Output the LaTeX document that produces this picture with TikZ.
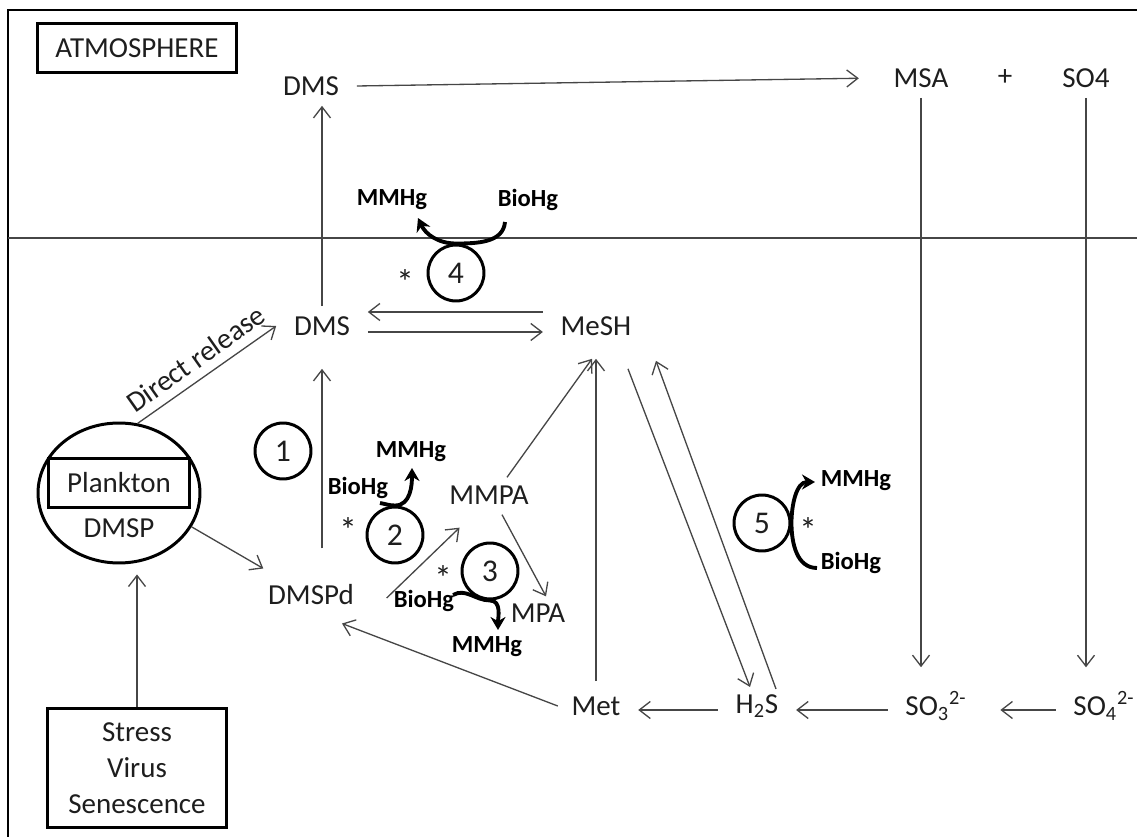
\documentclass[tikz,border=0pt]{standalone}
\usepackage{fontspec}
\setmainfont{Carlito}
\usetikzlibrary{%
	calc,%
	arrows.meta,%
	shapes.geometric,%
	positioning,%
}
\definecolor{ctext}{RGB}{30,30,30}
\definecolor{cline}{RGB}{70,70,70}
\tikzset{
	>={Straight Barb[length=2.2mm,width=3.4mm]},%
	nodes={align=center},%
	species/.style={%
			text=ctext,%
			font={\fontsize{16.5}{19}\selectfont},%
			inner xsep=0.35cm,%
			inner ysep=0.2cm},%
	hglabel/.style={%
			font={\fontsize{14}{16}\selectfont\bfseries},%
			inner sep=0pt},%
	enzyme/.style={%
			draw,%
			circle,%
			line width=1.7pt,%
			minimum size=1.12cm,%
			inner sep=0pt,%
			text=ctext,%
			font={\fontsize{18}{20}\selectfont}},%
	asterisk/.style={%
			text=ctext,%
			inner sep=0pt,%
			font={\fontsize{20}{22}\selectfont}},%
	framebox/.style={%
			draw,%
			rectangle,%
			line width=1.7pt,%
			text=ctext,%
			font={\fontsize{16.5}{20.5}\selectfont}},%
	flux/.style={%
			->,%
			draw=cline,%
			line width=0.75pt},%
	hgarc/.style={%
			-{Stealth[length=2.6mm,width=3mm]},%
			line width=2.2pt},%
}

\begin{document}
\begin{tikzpicture}[x=0.02cm, y=-0.02cm]%
	\useasboundingbox (0,0) rectangle (1137,837);
	\draw[line width=1.6pt] (8,837) -- (8,10) -- (1137,10);
	\draw[cline, line width=0.9pt] (8,238) -- (1137,238);

	% atmosphere
	\node[framebox, minimum width=3.98cm, minimum height=0.98cm] (atm) at (137,48) {ATMOSPHERE};
	\node[species] (dmsA) at (311,86) {DMS};
	\node[species] (msa) at (921,78) {MSA};
	\node[species] (plus) at (1005,78) {+};
	\node[species] (so4a) at (1086,78) {SO4};

	% water
	\node[species] (dmsW) at (322,326) {DMS};
	\node[species] (mesh) at (596,326) {MeSH};
	\node[species] (dmspd) at (311,595) {DMSPd};
	\node[species] (mmpa) at (489,495) {MMPA};
	\node[species] (mpa) at (538,613) {MPA};
	\node[species] (met) at (596,706) {Met};
	\node[species] (h2s) at (757,706) {H\textsubscript{2}S};
	\node[species] (so3) at (936,706) {SO\textsubscript{3}\textsuperscript{2-}};
	\node[species] (so4w) at (1104,706) {SO\textsubscript{4}\textsuperscript{2-}};

	\node[draw, ellipse, line width=1.7pt, minimum width=3.24cm, minimum height=2.8cm] (plank) at (119,493) {};
	\node[framebox, minimum width=2.84cm, minimum height=0.98cm] (plankbox) at (119,483) {Plankton};
	\node[species] (dmsp) at (119,528) {DMSP};
	\node[framebox, minimum width=3.6cm, minimum height=2.38cm] (stress) at (137,768) {Stress\\Virus\\Senescence};

	% enzymes
	\node[enzyme] (e1) at (283,451) {1};
	\node[enzyme] (e2) at (395,535) {2};
	\node[enzyme] (e3) at (490,571) {3};
	\node[enzyme] (e4) at (456,273) {4};
	\node[enzyme] (e5) at (762,523) {5};
	\node[asterisk] (st2) at (348,530) {*};
	\node[asterisk] (st3) at (443,578) {*};
	\node[asterisk] (st4) at (405,282) {*};
	\node[asterisk] (st5) at (808,530) {*};

	\node[hglabel] (mm4) at (392,200) {MMHg};
	\node[hglabel] (bio4) at (528,200) {BioHg};
	\node[hglabel] (mm2) at (411,452) {MMHg};
	\node[hglabel] (bio2) at (358,488) {BioHg};
	\node[hglabel] (bio3) at (424,601) {BioHg};
	\node[hglabel] (mm3) at (487,647) {MMHg};
	\node[hglabel] (mm5) at (856,481) {MMHg};
	\node[hglabel] (bio5) at (851,563) {BioHg};

	\draw[hgarc] ([shift={(49,-51)}]e4.center) to[out=-95,in=0] (e4.north) to[out=180,in=-65] ([shift={(-38,-55)}]e4.center);
	\draw[hgarc] ([shift={(-15,-32)}]e2.center) to[out=-10,in=180] (e2.north) to[out=0,in=-90] ([shift={(17,-67)}]e2.center);
	\draw[hgarc] ([shift={(-37,24)}]e3.center) to[out=30,in=180] (e3.south) to[out=0,in=90] ([shift={(8,59)}]e3.center);
	\draw[hgarc] ([shift={(55,45)}]e5.center) to[out=180,in=-90] (e5.east) to[out=90,in=180] ([shift={(53,-41)}]e5.center);

	% fluxes
	\draw[flux, shorten >=0.34cm] (dmsA.east) -- (msa.west);
	\draw[flux, shorten >=0.28cm] (msa.south) -- (msa.south |- so3.north);
	\draw[flux, shorten >=0.28cm] (so4a.south) -- (so4a.south |- so4w.north);
	\draw[flux] (dmsW.north) -- (dmsW.north |- dmsA.south);
	\draw[flux] ([yshift=0.28cm]mesh.west) -- ([yshift=0.28cm]dmsW.east);
	\draw[flux] ([yshift=-0.12cm]dmsW.east) -- ([yshift=-0.12cm]mesh.west);
	\draw[flux] (plank.75) -- (dmsW.west) node[midway, sloped, above=5pt, text=ctext, inner sep=0pt, font={\fontsize{16.5}{19}\selectfont}] {Direct release};
	\draw[flux] (plank.-25) -- ([xshift=0.26cm, yshift=0.12cm]dmspd.north west);
	\draw[flux, shorten >=0.2cm] (stress.north) -- (stress.north |- plank.south);
	\draw[flux, shorten <=0.52cm, shorten >=0.46cm] (dmsW.south |- dmspd.north) -- (dmsW.south);
	\draw[flux] ([xshift=0.3cm, yshift=-0.06cm]dmspd.east) -- ([xshift=0.56cm, yshift=-0.26cm]mmpa.south west);
	\draw[flux] ([xshift=0.36cm, yshift=-0.04cm]mmpa.north) -- ([xshift=-0.08cm, yshift=-0.26cm]mesh.south);
	\draw[flux] ([yshift=0.1cm]met.north) -- ([yshift=-0.26cm]mesh.south);
	\draw[flux] ([xshift=0.26cm]mmpa.south) -- ([xshift=0.16cm, yshift=-0.06cm]mpa.north);
	\draw[flux] ([xshift=0.08cm]met.west) -- ([xshift=0.62cm, yshift=-0.16cm]dmspd.south);
	\draw[flux] ([yshift=-0.08cm]h2s.west) -- ([yshift=-0.08cm]met.east);
	\draw[flux] ([yshift=-0.08cm]so3.west) -- ([yshift=-0.08cm]h2s.east);
	\draw[flux, shorten >=0.32cm] ([yshift=-0.08cm]so4w.west) -- ([yshift=-0.08cm]so3.east);
	\draw[flux] ([xshift=0.64cm, yshift=-0.46cm]mesh.south) -- ([xshift=-0.14cm, yshift=-0.06cm]h2s.north);
	\draw[flux] ([xshift=0.38cm, yshift=-0.1cm]h2s.north) -- ([xshift=1.2cm, yshift=-0.3cm]mesh.south);
\end{tikzpicture}
\end{document}
